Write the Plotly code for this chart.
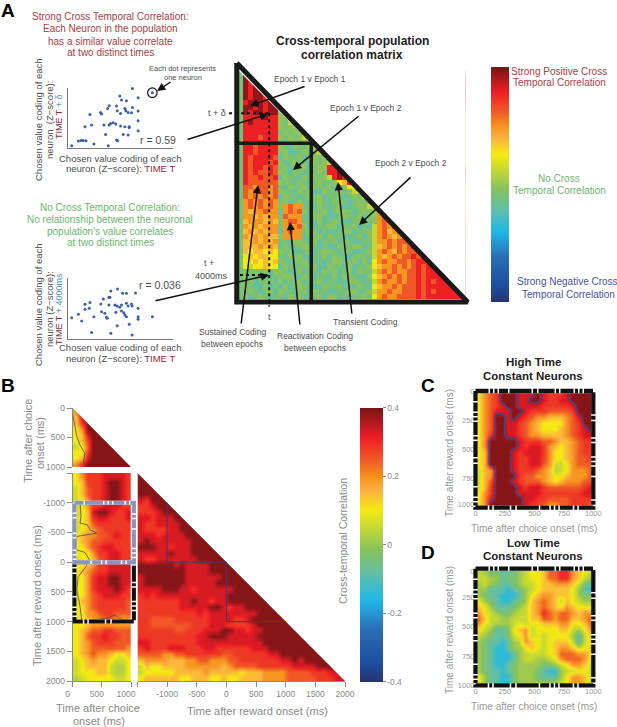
import numpy as np
import plotly.graph_objects as go

W, H = 617, 727
FONT = "Liberation Sans"
GREY = "#8a8a8a"
TEXT = "#4d4d4d"
RED_TXT = "#a8403f"
GREEN_TXT = "#6db56d"
BLUE_TXT = "#45549f"
TIME_RED = "#8c2a3a"
TIME_BLUE = "#4f94c8"

# --- colour scale ---
CORR_COLORS = [
    [0.0, "#26336f"], [0.067, "#1d4da0"], [0.19, "#2a6db5"], [0.30, "#1fb8e8"],
    [0.395, "#63bfa5"], [0.48, "#86c25f"], [0.566, "#c7d833"], [0.627, "#f5ea14"],
    [0.70, "#fbb040"], [0.748, "#f7931e"], [0.81, "#f05a28"], [0.894, "#ed1c24"],
    [0.955, "#a6191e"], [1.0, "#7a1315"],
]
CORR_TICKS = [-0.4, -0.2, 0, 0.2, 0.4]
CORR_TICKTEXT = ["-0.4", "-0.2", "0", "0.2", "0.4"]

# --- scatter plots in panel A (z-scores, axis units) ---
HIGH_X = [6.15, 4.95, 6.69, 5.11, 5.58, 4.64, 3.94, 3.79, 2.11, 3.12, 3.22, 4.70, 5.43, 5.52, 5.74,
          6.15, 6.06, 6.69, 5.02, 6.69, 6.69, 5.84, 4.07, 3.94, 4.32, 3.44, 4.57, 5.02, 5.43, 5.84,
          1.64, 2.27, 3.60, 5.27, 5.74, 4.64, 4.73, 1.01, 1.26, 1.48, 1.74, 0.38, 2.49, 3.85]
HIGH_Y = [5.93, 5.17, 5.00, 4.77, 4.70, 4.17, 4.20, 3.93, 3.33, 3.53, 3.37, 3.70, 3.93, 3.70, 3.53,
          4.03, 3.50, 3.67, 3.43, 2.70, 1.70, 2.03, 2.43, 2.27, 2.50, 2.27, 2.37, 2.17, 2.10, 2.10,
          2.10, 2.27, 1.33, 1.33, 1.27, 0.77, 0.70, 0.67, 0.73, 0.73, 0.70, 0.20, 0.37, 0.20]
LOW_X = [0.38, 1.01, 1.33, 1.64, 1.64, 2.05, 2.11, 2.49, 2.27, 3.15, 3.22, 3.53, 3.69, 3.38, 3.91,
         4.01, 4.10, 4.73, 5.21, 5.58, 6.44, 3.91, 4.48, 4.70, 4.95, 5.11, 5.58, 5.74, 6.06, 6.12,
         6.69, 4.57, 5.11, 5.33, 5.43, 5.58, 6.69, 6.69, 4.70, 5.84, 8.04, 4.10, 6.12, 3.75]
LOW_Y = [2.13, 2.46, 1.80, 3.44, 2.95, 3.05, 3.61, 2.23, 0.66, 3.48, 2.72, 2.56, 2.16, 3.97, 4.10,
         4.13, 4.75, 4.95, 4.52, 4.52, 4.56, 3.38, 3.38, 3.28, 3.15, 3.38, 3.54, 3.28, 3.48, 3.28,
         3.05, 2.66, 2.79, 2.62, 2.39, 2.23, 2.23, 1.97, 1.34, 1.48, 2.23, 0.59, 0.43, 2.07]
NEURON_X = [8.04]
NEURON_Y = [5.5]

# --- panel A matrix: one digit per cell, looked up in A_LEVELS ---
A_LEVELS = [-0.08, -0.04, -0.01, 0.05, 0.10, 0.15, 0.195, 0.25, 0.31, 0.38]
A_ROWS = [
    "1", "19", "198", "1989", "19899", "198998", "1899989", "19989899", "198998992",
    "1 8888988 2 2", "1 8988888 2 1 3", "1 8888888 2 1 2 2", "1 8888888 1 2 1 2 2",
    "1 8887888 2 1 2 1 2 3", "1 8888888 1 0 2 1 1 2 3", "1 8878888 2 1 0 2 1 1 2 2",
    "1 8878888 1 2 0 0 1 2 1 2 3", "1 8788887 0 2 1 1 2 0 1 2 1 2",
    "1 8788878 2 0 1 2 1 1 0 2 1 2 3", "1 8788787 1 2 0 1 1 2 0 1 2 2 8 8",
    "1 8787787 2 1 0 2 1 0 1 1 2 1 8 8 9", "1 8778778 0 2 1 1 0 2 1 2 1 2 3 8 9 8",
    "1 8777777 2 1 1 0 2 1 0 1 2 1 1 2 4 5 8", "1 7767767 1 0 2 1 1 2 0 2 1 1 2 0 1 2 4 4",
    "1 7677767 2 1 1 0 2 1 2 0 0 2 1 1 2 1 2 3 4", "1 7676767 0 2 1 1 0 1 2 1 2 0 1 1 2 0 1 2 1 3",
    "1 6767676 1 2 0 1 2 0 1 1 2 1 0 2 1 1 0 1 2 1 2",
    "1 6767676 2 6766 110210120012 2 3",
    "1 6566766 0 6767 20112012210121 2 6",
    "1 6656566 1 7666 01221001211201 2 67",
    "1 5666565 2 6776 11020121001221 2 676",
    "1 6565666 1 6667 20011220112010 3 6767",
    "1 5656566 0 6766 12201001220112 3 67567",
    "1 6565655 2 6666 01120211001202 3 676567",
    "1 5565656 1 1022 10201120210011 3 6676778",
    "1 5556565 0 2011 22101002112201 3 56767678",
    "1 5455454 2 1100 12012210210012 3 676576778",
    "1 4545544 1 0212 00112021001211 3 6567677878",
    "1 4454545 2 1021 20010122112020 4 67667767887",
    "1 4344544 0 2101 12200211020112 4 566767678788",
    "1 2121202 2 1012 01102120120211 3 6767667787888",
    "1 2012101 1 2200 21011020211002 4 56767677878888",
    "1 1201120 2 0112 02120110022101 3 676676778787888",
    "1 2100201 0 2012 11002112010210 4 5667677787888888",
    "1 1210120 2 1101 20211001122012 3 66766777878788888",
    "1 2012101 1 0212 01120220101121 4 676677778788888888",
]

# --- panel B matrices (100 ms cells), digits looked up in B_LEVELS ---
B_LEVELS = [-0.01, 0.03, 0.06, 0.10, 0.15, 0.195, 0.25, 0.285, 0.33, 0.39]
B_CHOICE_ROWS = [
    "5999999999", "4899999999", "4799999999", "3599999999", "3489999999",
    "3479999999", "2369999999", "3379999999", "3489999999", "5799999999",
]
B_CROSS_ROWS = [
    "3577788887", "3477789987", "2467789987", "2467789987", "2357789987", "2357788877", "2348998778",
    "2347887778", "2346777777", "2345677777", "3455667877", "3456677777", "3356788777", "3335778877",
    "2334678877", "3345778888", "3456778888", "3357889988", "3357889988", "3357888987", "3356788877",
    "3456777776", "3356777776", "3355677666", "3345566555", "3345555555", "3456677666", "3467787766",
    "3456777666", "3456666665", "3456554334", "2345443223", "2344442113", "2333442113", "1233333223",
]
B_REWARD_ROWS = [
    "9", "99", "999", "9999", "87999", "778999", "7778999", "88788899", "877888899", "8777788999",
    "88878888999", "898888888999", "9998878889999", "88888988899999", "877888888899999",
    "9999998988889999", "99999999888899999", "899999998888889999", "8999999988888999999",
    "88889998878888889999", "787888888888888999999", "7777777889887889999999",
    "77777778888899878899999", "777777777787888888889999", "7766667777778888778999999",
    "77666666677788877778999999", "777777667778889988788999999", "7777777777889998888899999999",
    "88777777778888888888899999999", "787778887778877777788899999999",
    "6666556677777766777777889999999", "45555444556655566777777788989999",
    "243344445555554566667777778888999", "2333334444454444434445555666677788",
    "34444443344433433444455556666677788",
]
# significance outline in panel B (ms)
CHOICE_LINE_X = [0, 40, 70, 126, 211, 183, 229]
CHOICE_LINE_Y = [100, 314, 485, 630, 771, 914, 1000]
CROSS_LINE_X = [126, 143, 126, 251, 297, 411, 240, 69, 57, 211, 286, 229, 97, 69, 126, 154, 240, 583, 726, 783, 983]
CROSS_LINE_Y = [-994, -770, -657, -629, -545, -489, -461, -433, -208, -163, -39, 73, 242, 466, 747, 972, 983, 944, 888, 944, 1000]
EPOCH_STEP_X = [-1000, -1000, 0, 0, 1000]
EPOCH_STEP_Y = [-1000, 0, 0, 1000, 1000]

# --- panels C and D (50 ms cells) ---
C_ROWS = [
    "35679998889877789999", "35679998899877889999", "35678998888777778999",
    "35688899877766667999", "35699898765544456899", "35699887654333356799",
    "35699887654333456789", "35799887655444456788", "35999998777665445677",
    "35999998788754345677", "34999987888753345677", "34999987788753345667",
    "34999987788652235666", "24599987776541235556", "24599997665543345556",
    "24699987666543455566", "24799998788766666678", "35799998888777777788",
    "35899999887766667777", "35999999877655667776",
]
CD_LEVELS = [-0.14, -0.08, -0.035, 0.01, 0.055, 0.095, 0.14, 0.19, 0.24, 0.30]
D_ROWS = [
    "43221123455688997654", "44331223455688997643", "34321123445667776421", "33111012345666665310",
    "32110001356776665322", "53210012367876465433", "65311123467876576555", "75432234467987887677",
    "86443344466887886678", "75433345455666775568", "54311256745555664357", "43211245745455553146",
    "32110134765456664146", "32100133565456776456", "32100013444456888775", "32100013443345788875",
    "32100123333223457764", "32110123332100344554", "53110023332111357764", "53110023333333457764",
]

TICK_PANEL_B_Y = [-1500, -1000, -500, 0, 500, 1000, 1500, 2000]
TICK_PANEL_B_Y_TEXT = ["", "-1000", "-500", "0", "500", "1000", "1500", "2000"]
TICK_CHOICE = [0, 500, 1000]
TICK_REWARD = [-1500, -1000, -500, 0, 500, 1000, 1500, 2000]
TICK_REWARD_TEXT = ["", "-1000", "-500", "0", "500", "1000", "1500", "2000"]
TICK_MS = [0, 250, 500, 750, 1000]
C_Y_TICK_POS = [0, 250, 500, 750, 968]
D_Y_TICK_POS = [25, 242, 496, 748, 1000]

FRAME_DASH = "13px,1.5px,3px,1.5px,3px,1.5px,9px,1.5px,22px,1.5px,4px,1.5px,16px,1.5px,3px,1.5px"
RECT_DASH = "9px,1.5px,18px,1.5px,3px,1.5px,3px,1.5px,11px,1.5px,3px,1.5px,14px,1.5px,3px,1.5px"


def decode(rows, levels, n):
    z = []
    for row in rows:
        row = row.replace(" ", "")
        row = row.ljust(n, row[-1])[:n]
        z.append([levels[int(c)] for c in row])
    return z


def xdom(a, b):
    return [a / W, b / W]


def ydom(a, b):
    return [1 - b / H, 1 - a / H]


fig = go.Figure()
layout_axes = {}


def axes(i, x0, x1, y0, y1, xrange, yrange, xopts=None, yopts=None):
    suffix = "" if i == 1 else str(i)
    base = dict(showgrid=False, zeroline=False, showticklabels=False, ticks="", showline=False)
    xa = dict(base, domain=xdom(x0, x1), range=xrange, anchor="y" + suffix)
    ya = dict(base, domain=ydom(y0, y1), range=yrange, anchor="x" + suffix)
    xa.update(xopts or {})
    ya.update(yopts or {})
    layout_axes["xaxis" + suffix] = xa
    layout_axes["yaxis" + suffix] = ya
    return "x" + suffix, "y" + suffix


def overlay(i, x0, x1, y0, y1, xrange, yrange, pad=12):
    # same data scale as the panel underneath, but wider, so thick frames are not cut at the panel edge
    sx = (xrange[1] - xrange[0]) / (x1 - x0)
    sy = (yrange[1] - yrange[0]) / (y1 - y0)
    return axes(i, x0 - pad, x1 + pad, y0 - pad, y1 + pad,
                [xrange[0] - pad * sx, xrange[1] + pad * sx],
                [yrange[0] - pad * sy, yrange[1] + pad * sy])


def tick_opts(vals, text, size=8.5, ticklen=5, shift=0):
    return dict(showline=True, linecolor=GREY, linewidth=1, ticks="outside", ticklen=ticklen, tickcolor=GREY,
                tickwidth=1, showticklabels=True, tickvals=vals, ticktext=text,
                tickfont=dict(family=FONT, size=size, color=GREY), ticklabelshift=shift)


def heat(z, x, y, xa, ya, smooth="best", colorbar=None):
    fig.add_trace(go.Heatmap(z=z, x=x, y=y, xaxis=xa, yaxis=ya, zmin=-0.4, zmax=0.4, colorscale=CORR_COLORS,
                             zsmooth=smooth, showscale=colorbar is not None, colorbar=colorbar, hoverinfo="skip"))


def line(x, y, xa, ya, color, width, dash="solid"):
    fig.add_trace(go.Scatter(x=x, y=y, xaxis=xa, yaxis=ya, mode="lines", hoverinfo="skip",
                             line=dict(color=color, width=width, dash=dash, simplify=False)))


def mask(lo, hi, xa, ya):
    # white corner above the diagonal
    pad = (hi - lo) * 0.02
    fig.add_trace(go.Scatter(x=[lo, hi, hi + pad, hi + pad, lo], y=[lo, hi, hi, lo - pad, lo - pad],
                             xaxis=xa, yaxis=ya, mode="lines", fill="toself", fillcolor="white",
                             line=dict(color="white", width=0), hoverinfo="skip"))


notes = []


def label(x, y, text, size=10, color=TEXT, bold=False, angle=0, anchor="center"):
    if bold:
        text = "<b>" + text + "</b>"
    notes.append(dict(x=x / W, y=1 - y / H, xref="paper", yref="paper", text=text, showarrow=False, textangle=angle,
                      xanchor=anchor, yanchor="middle", font=dict(family=FONT, size=size, color=color)))


def arrow(x0, y0, x1, y1):
    notes.append(dict(x=x1 / W, y=1 - y1 / H, xref="paper", yref="paper", ax=x0 - x1, ay=y0 - y1, text="",
                      showarrow=True, arrowhead=2, arrowsize=1.1, arrowwidth=1.5, arrowcolor="#111"))


# --- panel A scatters ---
SCATTER_AXIS = dict(showline=True, linecolor="#777", linewidth=1)
for idx, (xs, ys, top, bottom) in enumerate([(HIGH_X, HIGH_Y, 87.7, 147.7), (LOW_X, LOW_Y, 278.3, 339.3)]):
    xa, ya = axes(idx + 1, 67.7, 173, top, bottom, [0, 10], [0, 6], SCATTER_AXIS, SCATTER_AXIS)
    fig.add_trace(go.Scatter(x=xs, y=ys, xaxis=xa, yaxis=ya, mode="markers", cliponaxis=False,
                             marker=dict(color="#3a60a8", size=3), hoverinfo="skip"))
    if idx == 0:
        fig.add_trace(go.Scatter(x=NEURON_X, y=NEURON_Y, xaxis=xa, yaxis=ya, mode="markers", cliponaxis=False,
                                 marker=dict(color="#3a60a8", size=3), hoverinfo="skip"))
        fig.add_trace(go.Scatter(x=NEURON_X, y=NEURON_Y, xaxis=xa, yaxis=ya, mode="markers", cliponaxis=False,
                                 marker=dict(symbol="circle-open", color="#111", size=9.5, line=dict(width=1.2)),
                                 hoverinfo="skip"))

# --- panel A matrix ---
N_A = len(A_ROWS)
xa, ya = axes(3, 238, 465.7, 70, 299, [0, N_A], [N_A, 0])
cells = np.arange(N_A) + 0.5
heat(decode(A_ROWS, A_LEVELS, N_A), cells, cells, xa, ya, smooth=False,
     colorbar=dict(x=491 / W, xanchor="left", xpad=0, ypad=0, y=1 - 302 / H, yanchor="bottom", len=235 / H,
                   thickness=18, outlinewidth=0, ticks="", showticklabels=False))
mask(0, N_A, xa, ya)
xa, ya = overlay(9, 238, 465.7, 70, 299, [0, N_A], [N_A, 0])
line([-0.25, -0.25, N_A + 0.4, -0.25], [-1.4, 46.6, 46.6, -1.4], xa, ya, "#1a1a1a", 5)
EPOCH_EDGE = 14.8
line([0, EPOCH_EDGE, EPOCH_EDGE], [14.7, 14.7, 46.6], xa, ya, "#1a1a1a", 3.5)
T_CELL = 6.3
line([T_CELL, T_CELL], [8.7, 47.5], xa, ya, "#111", 2, "3px,3px")
line([-1.8, T_CELL], [8.7, 8.7], xa, ya, "#111", 2, "3px,3px")
line([0.4, T_CELL], [41.2, 41.2], xa, ya, "#111", 2, "3px,3px")

# --- panel B ---
xa, ya = axes(4, 72.7, 131, 408, 467, [0, 1000], [1000, 0], dict(showline=False),
              tick_opts(TICK_CHOICE, ["0", "500", "1000"]))
cells = np.arange(10) * 100 + 50
heat(decode(B_CHOICE_ROWS, B_LEVELS, 10), cells, cells, xa, ya)
mask(0, 1000, xa, ya)
line(CHOICE_LINE_X, CHOICE_LINE_Y, xa, ya, "#4a4a55", 0.8)

xa, ya = axes(5, 72.7, 131, 473, 681, [0, 1000], [2000, -1500],
              tick_opts(TICK_CHOICE, ["0", "500", "1000"], shift=-5, ticklen=5),
              tick_opts(TICK_PANEL_B_Y, TICK_PANEL_B_Y_TEXT))
ms_y = np.arange(35) * 100 - 1450
heat(decode(B_CROSS_ROWS, B_LEVELS, 10), cells, ms_y, xa, ya)
line(CROSS_LINE_X, CROSS_LINE_Y, xa, ya, "#4a4a55", 0.8)

xa, ya = axes(6, 137.5, 345, 473, 681, [-1500, 2000], [2000, -1500],
              tick_opts(TICK_REWARD, TICK_REWARD_TEXT), dict(showline=False))
ms_x = np.arange(35) * 100 - 1450
heat(decode(B_REWARD_ROWS, B_LEVELS, 35), ms_x, ms_y, xa, ya,
     colorbar=dict(x=360 / W, xanchor="left", xpad=0, ypad=0, y=1 - 681.7 / H, yanchor="bottom", len=273.7 / H,
                   thickness=23, outlinewidth=0, ticks="outside", ticklen=3, tickcolor=GREY, tickvals=CORR_TICKS,
                   ticktext=CORR_TICKTEXT, tickfont=dict(family=FONT, size=8.5, color=GREY)))
mask(-1500, 2000, xa, ya)
line(EPOCH_STEP_X, EPOCH_STEP_Y, xa, ya, "#3b3a78", 1)

xa, ya = overlay(10, 72.7, 131, 473, 681, [0, 1000], [2000, -1500])
for color, y0, y1, dash in [("#111111", 0, 1000, FRAME_DASH), ("#8b93bd", -1000, 0, RECT_DASH)]:
    rx = [30, 1050, 1050, 30, 30]
    ry = [y0, y0, y1, y1, y0]
    line(rx, ry, xa, ya, "white", 4)
    line(rx, ry, xa, ya, color, 4, dash)

# --- panels C and D ---
panel_ticks = ["0", "250", "500", "750", "1000"]
no_marks = dict(showticklabels=True, tickfont=dict(family=FONT, size=7.5, color="#999"), ticklen=0, ticks="")
cells = np.arange(20) * 50 + 25
frame_x = [0, 1000, 1000, 0, 0]
frame_y = [0, 0, 1000, 1000, 0]

xa, ya = axes(7, 475.5, 593.3, 391, 507.7, [0, 1000], [1000, 0],
              dict(no_marks, tickvals=TICK_MS, ticktext=panel_ticks),
              dict(no_marks, tickvals=C_Y_TICK_POS, ticktext=panel_ticks))
c_z = decode(C_ROWS, B_LEVELS, 20)
heat(c_z, cells, cells, xa, ya)
fig.add_trace(go.Contour(z=c_z, x=cells, y=cells, xaxis=xa, yaxis=ya, showscale=False, hoverinfo="skip",
                         autocontour=False, contours=dict(start=0.36, end=0.36, size=1, coloring="none"),
                         line=dict(color="#3d4a8f", width=1.5, smoothing=1)))
xa, ya = overlay(11, 475.5, 593.3, 391, 507.7, [0, 1000], [1000, 0])
line(frame_x, frame_y, xa, ya, "white", 4.3)
line(frame_x, frame_y, xa, ya, "#111", 4.3, FRAME_DASH)

xa, ya = axes(8, 475.5, 593.3, 568.7, 685.3, [0, 1000], [1000, 0],
              dict(no_marks, tickvals=TICK_MS, ticktext=panel_ticks),
              dict(no_marks, tickvals=D_Y_TICK_POS, ticktext=panel_ticks))
heat(decode(D_ROWS, CD_LEVELS, 20), cells, cells, xa, ya)
xa, ya = overlay(12, 475.5, 593.3, 568.7, 685.3, [0, 1000], [1000, 0])
line(frame_x, frame_y, xa, ya, "white", 4.3)
line(frame_x, frame_y, xa, ya, "#111", 4.3, FRAME_DASH)

# --- text ---
label(8, 10, "A", 19, "#000", True)
label(8, 385, "B", 19, "#000", True)
label(428, 385, "C", 19, "#000", True)
label(428, 552, "D", 19, "#000", True)

for y, txt in zip([17, 29, 41, 53], ["Strong Cross Temporal Correlation:", "Each Neuron in the population",
                                     "has a similar value correlate", "at two distinct times"]):
    label(110, y, txt, 10, RED_TXT)
for y, txt in zip([207, 219, 231, 243], ["No Cross Temporal Correlation:", "No relationship between the neuronal",
                                         "population's value correlates", "at two distinct times"]):
    label(110, y, txt, 10, GREEN_TXT)
label(183, 68, "Each dot represents", 7.5)
label(183, 77, "one neuron", 7.5)
arrow(172, 81, 157, 91)

time_t = f'<span style="color:{TIME_RED}">TIME T</span>'
label(38, 120, "Chosen value coding of each", 9.5, angle=-90)
label(49, 120, "neuron  (Z\u2212score):", 9.5, angle=-90)
label(59, 117, f'{time_t}<span style="color:{TIME_BLUE}"> + \u03b4</span>', 9, angle=-90)
label(120, 158, "Chosen value coding of each", 9.5)
label(120, 168, f"neuron (Z\u2212score): {time_t}", 9.5)
label(158, 140, "r = 0.59", 10.5)
label(38, 305, "Chosen value coding of each", 9.5, angle=-90)
label(49, 309, "neuron (Z\u2212score):", 9.5, angle=-90)
label(59, 309, f'{time_t}<span style="color:{TIME_BLUE}"> + 4000ms</span>', 9, angle=-90)
label(120, 348, "Chosen value coding of each", 9.5)
label(120, 359, f"neuron (Z\u2212score): {time_t}", 9.5)
label(160, 285, "r = 0.036", 10.5)

label(352, 41, "Cross-temporal population", 12, "#222", True)
label(352, 55, "correlation matrix", 12, "#222", True)
label(310, 79, "Epoch 1 v Epoch 1", 8.5)
label(366, 108, "Epoch 1 v Epoch 2", 8.5)
label(411, 163, "Epoch 2 v Epoch 2", 8.5)
label(217, 113, "t + \u03b4", 9)
label(209, 263, "t +", 9)
label(211, 276, "4000ms", 9)
label(269, 317, "t", 9)
label(232, 332, "Sustained Coding", 8.5)
label(232, 344, "between epochs", 8.5)
label(315, 336, "Reactivation Coding", 8.5)
label(315, 348, "between epochs", 8.5)
label(366, 322, "Transient Coding", 8.5)

arrow(306, 86, 250, 106)
arrow(186, 140, 268, 114)
arrow(360, 115, 293, 170)
arrow(412, 176, 359, 225)
arrow(154, 301, 269, 275)
arrow(241, 325, 258, 185)
arrow(300, 326, 290, 222)
arrow(352, 315, 338, 182)

label(559, 72, "Strong Positive Cross", 10, RED_TXT)
label(559, 83, "Temporal Correlation", 10, RED_TXT)
label(559, 178, "No Cross", 10, GREEN_TXT)
label(559, 190, "Temporal Correlation", 10, GREEN_TXT)
label(567, 282, "Strong Negative Cross", 10, BLUE_TXT)
label(568, 294, "Temporal Correlation", 10, BLUE_TXT)

label(27.7, 441, "Time after choice", 11, GREY, angle=-90)
label(40, 443, "onset (ms)", 11, GREY, angle=-90)
label(37, 596, "Time after reward onset (ms)", 11, GREY, angle=-90)
label(98, 708, "Time after choice", 11, GREY)
label(99, 721, "onset (ms)", 11, GREY)
label(257, 711, "Time after reward onset (ms)", 11, GREY)
label(343, 541, "Cross-temporal Correlation", 10.5, GREY, angle=-90)

label(533, 362, "High Time", 11.5, "#222", True)
label(533, 376, "Constant Neurons", 11.5, "#222", True)
label(534, 528, "Time after choice onset (ms)", 10, "#999")
label(449, 453, "Time after reward onset (ms)", 10, "#999", angle=-90)
label(533, 543, "Low Time", 11.5, "#222", True)
label(533, 556, "Constant Neurons", 11.5, "#222", True)
label(534, 706, "Time after choice onset (ms)", 10, "#999")
label(449, 630, "Time after reward onset (ms)", 10, "#999", angle=-90)

fig.update_layout(width=W, height=H, margin=dict(l=0, r=0, t=0, b=0, autoexpand=False), paper_bgcolor="white",
                  plot_bgcolor="rgba(0,0,0,0)", showlegend=False, annotations=notes, font=dict(family=FONT),
                  **layout_axes)

fig.write_html("out.html", config={"displayModeBar": False}, post_script="document.body.style.margin='0';")
